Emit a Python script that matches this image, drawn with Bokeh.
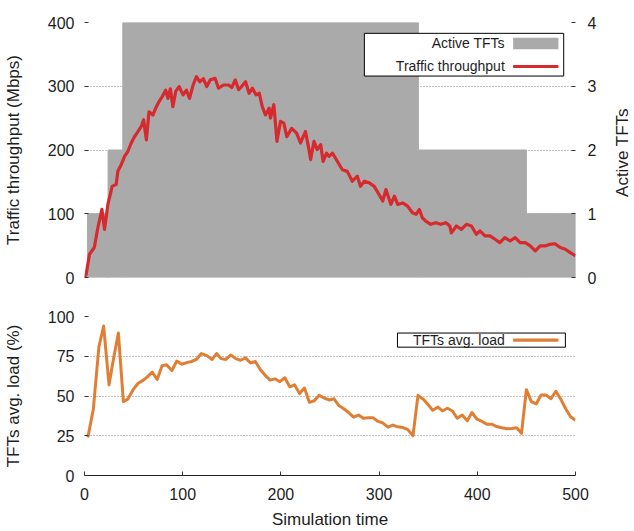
import math
from bokeh.plotting import figure
from bokeh.layouts import column, row
from bokeh.models import Range1d, LinearAxis, BoxAnnotation, Label, FixedTicker
from bokeh.embed import file_html
from bokeh.resources import INLINE

# ---------------- data ----------------
# Active TFTs (step segments)
tft_start = [3, 24, 39, 340, 450]
tft_end = [24, 39, 340, 450, 500]
tft_count = [1, 2, 4, 2, 1]

# Traffic throughput (Mbps)
thr_time = [0, 1.7, 5.1, 10, 13.6, 17.7, 20.4, 23.8, 28.2, 32.3, 34, 37.4, 40.8, 44.2, 47.6, 51,
            54.4, 57.8, 60.2, 63, 65.7, 69.7, 72.5, 75.9, 79.3, 82.7, 85, 87.4, 90, 92.9, 96.3,
            100.4, 103.8, 107, 110.6, 114, 117.4, 121, 124.5, 128, 133, 136.5, 141.6, 146.7, 150,
            153.5, 157, 160, 164, 167.6, 171, 174.6, 178, 181, 184.3, 188, 189.3, 192.8, 196,
            199.6, 203, 206, 211, 216, 220, 225, 228.6, 230.3, 233.7, 237, 240.5, 243, 246.5,
            249, 252.5, 257.6, 262.6, 267.6, 272.7, 277.8, 281, 284.9, 290, 295, 300, 303.7, 307,
            312, 315.6, 319, 324, 329, 334, 337.7, 341, 344, 347.5, 352.6, 357.7, 362.8, 368,
            372, 373.6, 378.7, 383.8, 388.9, 394, 399, 402.7, 407.8, 412.9, 418, 423, 428, 433.4,
            438.5, 443.7, 448.8, 453.9, 459, 464, 469, 474, 479, 484.5, 489.6, 494.7, 500]
thr_mbps = [0, 5, 36.5, 47, 78, 107, 75.6, 114.6, 143, 146, 167, 177, 190, 198, 211, 221,
            229, 237, 247.5, 216, 260, 255, 265.6, 276, 284, 294, 281, 296, 268, 292, 299.5,
            286.5, 294, 281, 302, 315, 307, 312, 299.5, 310, 312.5, 297, 302, 302, 298,
            310, 294.6, 299.6, 307, 289, 297, 286.5, 289, 268, 255, 265.6, 250, 271, 213.6,
            245, 242, 221, 234, 226.5, 211, 229, 200.6, 185, 213.6, 200.6, 208.5, 182, 195,
            190, 195, 182, 169, 166.5, 151, 159, 143, 151, 148.5, 143, 130, 120, 138,
            114.6, 127.6, 114.6, 117, 112, 101.6, 99, 106.7, 93.75, 88.5, 83.4, 86, 83.4, 86,
            80.8, 70, 80.8, 75.5, 83.4, 80.8, 67.8, 73, 65.4, 65.4, 60, 54.7, 62.5, 57.3,
            62.5, 54.7, 54.7, 49.5, 41.7, 49.5, 49.5, 52, 53, 47, 44.4, 39, 34]

# TFTs average load (%)
load_time = [3.4, 9, 14.7, 19.5, 25, 30, 34.5, 39.6, 44, 49.5, 54.6, 60, 64, 69, 74, 79, 83.6,
             89, 94, 99, 104, 109, 114, 119, 124.6, 130, 134.5, 139, 144, 149, 154, 159, 164,
             169, 174, 179, 184, 189, 194, 199, 204, 209, 214, 219, 224, 229, 234, 239, 244,
             249, 254, 259, 264, 269, 274, 279, 284, 289, 294, 299, 304, 309, 314, 319, 324,
             329, 334.5, 339.6, 345, 349.5, 354.6, 360, 364.5, 369.6, 374.7, 379.5, 384.6,
             389.8, 394.5, 399.7, 404.8, 409.6, 414.7, 419.8, 425, 430, 435, 440, 445, 450,
             455, 460, 465, 470, 475, 480, 485, 490, 495, 500]
load_pct = [24, 41.7, 81, 94, 57, 75, 89.6, 46.5, 48, 54, 58, 60, 62, 65, 60.4, 69, 69.6,
            66, 72, 70, 71, 71.7, 73, 76.7, 75.4, 73, 76.7, 73.5, 73, 75.8, 73.5, 72.5, 74,
            70.8, 71.7, 66.7, 63, 60, 60.8, 59, 61.5, 55.8, 57, 51.5, 55, 46, 47, 50.4, 48.75,
            47.5, 48.3, 44, 42, 39.6, 36.7, 38, 36, 36.25, 36.25, 34, 33, 30.4, 31.7, 30.6, 30.2,
            29, 25, 50.4, 48, 44.8, 41, 43, 40.6, 42.3, 40.6, 36, 38,
            34.4, 39.6, 35.4, 34, 32.3, 32.3, 30.8, 30, 29.4, 29.6, 30, 26.5, 54,
            46.5, 45, 50.6, 50.6, 48.3, 53, 48, 42, 37, 34.8]

thr_ticks = [0, 100, 200, 300, 400]
tft_ticks = [0, 1, 2, 3, 4]
load_ticks = [0, 25, 50, 75, 100]
time_ticks = [0, 100, 200, 300, 400, 500]

# ---------------- styles ----------------
FONT = "Liberation Sans"
TXT = "#1e1e1e"
GRAY = "#aaaaaa"
RED = "#d62a2e"
ORANGE = "#e07f34"


def style_axis(ax, label_size="16px"):
    ax.major_label_text_font = FONT
    ax.major_label_text_font_size = label_size
    ax.major_label_text_color = TXT
    ax.axis_label_text_font = FONT
    ax.axis_label_text_font_size = "17px"
    ax.axis_label_text_font_style = "normal"
    ax.axis_label_text_color = TXT
    ax.major_tick_in = 4
    ax.major_tick_out = 0
    ax.minor_tick_line_color = None
    ax.major_tick_line_color = "#333333"


x_range = Range1d(0, 500)

# ---------------- top figure ----------------
top = figure(width=610, height=294, x_range=x_range, y_range=Range1d(0, 400),
             x_axis_location=None, output_backend="svg", toolbar_location=None,
             min_border_left=79, min_border_right=35, min_border_top=22, min_border_bottom=17)
top.outline_line_color = None
top.xgrid.visible = False
top.ygrid.grid_line_color = "#8a8a8a"
top.ygrid.grid_line_dash = "1 2"
top.ygrid.ticker = FixedTicker(ticks=thr_ticks)
top.yaxis.ticker = FixedTicker(ticks=thr_ticks)
top.yaxis.axis_label = "Traffic throughput (Mbps)"
top.yaxis.axis_line_color = None
top.yaxis.major_label_standoff = 10
top.yaxis.axis_label_standoff = 22
style_axis(top.yaxis[0])

top.extra_y_ranges = {"tfts": Range1d(0, 4)}
right_ax = LinearAxis(y_range_name="tfts", ticker=FixedTicker(ticks=tft_ticks))
right_ax.axis_line_color = None
right_ax.major_label_standoff = 12
style_axis(right_ax)
top.add_layout(right_ax, "right")

top.quad(left=tft_start, right=tft_end, bottom=0, top=tft_count, y_range_name="tfts",
         fill_color=GRAY, line_color=GRAY, line_width=1)
top.line(thr_time, thr_mbps, line_color=RED, line_width=3.2, line_join="round")

# custom legend (text first, sample after, as in the original)
top.add_layout(BoxAnnotation(left=285, right=488, bottom=316, top=383, fill_color="white",
                             fill_alpha=1, line_color="black", line_width=1, line_alpha=1))
top.add_layout(Label(x=428, y=368, text="Active TFTs", text_align="right",
                     text_baseline="middle", text_font=FONT, text_font_size="14px",
                     text_color=TXT))
top.add_layout(Label(x=428, y=331, text="Traffic throughput", text_align="right",
                     text_baseline="middle", text_font=FONT, text_font_size="14px",
                     text_color=TXT))
top.add_layout(BoxAnnotation(left=436.5, right=482.6, bottom=358, top=376, fill_color=GRAY,
                             fill_alpha=1, line_color=None))
top.add_layout(BoxAnnotation(left=436.5, right=482.6, bottom=328.7, top=333.3, fill_color=RED,
                             fill_alpha=1, line_color=None))

# narrow strip carrying the right-axis title (reads bottom-to-top as in the original)
side = figure(width=24, height=294, x_range=Range1d(0, 1), y_range=Range1d(0, 1),
              x_axis_location=None, y_axis_location=None, output_backend="svg",
              toolbar_location=None, min_border=0)
side.outline_line_color = None
side.grid.visible = False
side.add_layout(Label(x=0.5, y=0.49, text="Active TFTs", angle=math.pi / 2,
                      text_align="center", text_baseline="middle", text_font=FONT,
                      text_font_size="17px", text_color=TXT))

# ---------------- bottom figure ----------------
bot = figure(width=634, height=237, x_range=x_range, y_range=Range1d(0, 100),
             output_backend="svg", toolbar_location=None,
             min_border_left=79, min_border_right=59, min_border_top=22, min_border_bottom=55)
bot.outline_line_color = None
bot.xgrid.visible = False
bot.ygrid.grid_line_color = "#8a8a8a"
bot.ygrid.grid_line_dash = "1 2"
bot.ygrid.ticker = FixedTicker(ticks=load_ticks)
bot.yaxis.ticker = FixedTicker(ticks=load_ticks)
bot.yaxis.axis_label = "TFTs avg. load (%)"
bot.yaxis.axis_line_color = None
bot.yaxis.major_label_standoff = 10
bot.yaxis.axis_label_standoff = 22
style_axis(bot.yaxis[0])

bot.xaxis.ticker = FixedTicker(ticks=time_ticks)
bot.xaxis.axis_label = "Simulation time"
bot.xaxis.axis_line_color = "#222222"
bot.xaxis.axis_line_width = 1
bot.xaxis.major_label_standoff = 12
bot.xaxis.axis_label_standoff = 7
style_axis(bot.xaxis[0])

bot.line(load_time, load_pct, line_color=ORANGE, line_width=3, line_join="round")

bot.add_layout(BoxAnnotation(left=318.7, right=489.7, bottom=80.7, top=89.6, fill_color="white",
                             fill_alpha=1, line_color="black", line_width=1, line_alpha=1))
bot.add_layout(Label(x=428, y=85.1, text="TFTs avg. load", text_align="right",
                     text_baseline="middle", text_font=FONT, text_font_size="14px",
                     text_color=TXT))
bot.add_layout(BoxAnnotation(left=436.5, right=482.6, bottom=84.1, top=86.1, fill_color=ORANGE,
                             fill_alpha=1, line_color=None))

layout = column(row(top, side), bot)
open("out.html", "w").write(file_html(layout, INLINE))
